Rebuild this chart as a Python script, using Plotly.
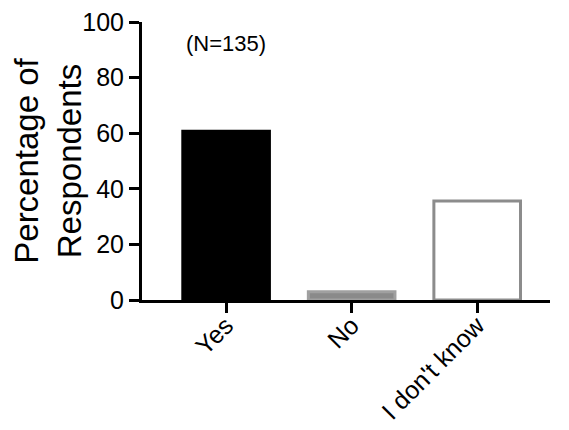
import plotly.graph_objects as go

categories = ["Yes", "No", "I don't know"]
percentages = [60.7, 3.0, 35.6]
fill_colors = ["#000000", "#8a8a8a", "#ffffff"]
line_colors = ["#000000", "#a0a0a0", "#8c8c8c"]
y_ticks = [0, 20, 40, 60, 80, 100]
note_text = "(N=135)"

FONT = "Liberation Sans, Arial, Helvetica, sans-serif"

fig = go.Figure()
fig.add_trace(go.Bar(
    x=categories,
    y=percentages,
    width=0.69,
    marker=dict(color=fill_colors, line=dict(color=line_colors, width=3)),
    showlegend=False,
))

# page body has an 8px default margin; size figure to compensate
fig.update_layout(
    width=561, height=422,
    margin=dict(l=134, r=19, t=14, b=130),
    paper_bgcolor="white", plot_bgcolor="white",
    font=dict(family=FONT, color="black"),
    bargap=0.3,
)
fig.update_xaxes(
    range=[-0.67, 2.58], automargin=False,
    showline=True, linecolor="black", linewidth=3,
    ticks="outside", ticklen=10, tickwidth=3, tickcolor="black",
    tickangle=-45, tickfont=dict(size=25, family=FONT),
    ticklabelstandoff=-12, ticklabeloverflow="allow",
    showgrid=False, zeroline=False,
)
fig.update_yaxes(
    range=[0, 100], automargin=False,
    tickvals=y_ticks,
    showline=True, linecolor="black", linewidth=3,
    ticks="outside", ticklen=10, tickwidth=3, tickcolor="black",
    tickfont=dict(size=25, family=FONT), ticklabeloverflow="allow",
    showgrid=False, zeroline=False,
    title=dict(text="Percentage of<br>Respondents", font=dict(size=33, family=FONT), standoff=1),
)
fig.add_annotation(
    x=0, y=92.4, xref="x", yref="y",
    text=note_text, showarrow=False,
    font=dict(size=22, family=FONT),
)

fig.write_html("out.html")
